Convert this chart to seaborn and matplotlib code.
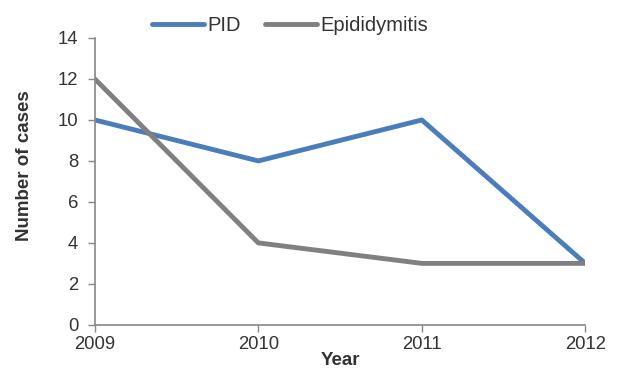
import matplotlib
matplotlib.use("Agg")
import matplotlib.pyplot as plt
import seaborn as sns
import pandas as pd

years = [2009, 2010, 2011, 2012]
pid_cases = [10, 8, 10, 3]
epi_cases = [12, 4, 3, 3]
series_names = ["PID", "Epididymitis"]

sns.set_theme(style="white")
plt.rcParams['font.family'] = ['Liberation Sans', 'DejaVu Sans']

df = pd.DataFrame({
    'Year': years * 2,
    'cases': pid_cases + epi_cases,
    'series': [series_names[0]] * len(years) + [series_names[1]] * len(years),
})

fig = plt.figure(figsize=(6.2, 3.76), dpi=100)
ax = fig.add_axes([0.153, 0.136, 0.791, 0.763])

palette = {"PID": "#4A7EBB", "Epididymitis": "#808080"}
sns.lineplot(data=df, x='Year', y='cases', hue='series', palette=palette,
             linewidth=3.5, ax=ax, legend=True)

ax.set_xlim(2009, 2012)
ax.set_ylim(0, 14)
ax.set_xticks(years)
ax.set_yticks(range(0, 15, 2))
ax.tick_params(axis='both', direction='out', length=5, width=1, color='#888888',
               labelsize=13.3, labelcolor='#333333')
ax.tick_params(axis='y', left=True, pad=7)
ax.tick_params(axis='x', bottom=True, pad=3)

for side in ['top', 'right']:
    ax.spines[side].set_visible(False)
for side in ['left', 'bottom']:
    ax.spines[side].set_color('#888888')
    ax.spines[side].set_linewidth(1.2)

ax.set_xlabel('Year', fontsize=13.5, fontweight='bold', color='#333333', labelpad=-1)
ax.set_ylabel('Number of cases', fontsize=13.5, fontweight='bold', color='#333333')
ax.yaxis.set_label_coords(-0.127, 0.554)

handles, labels = ax.get_legend_handles_labels()
ax.get_legend().remove()
leg = fig.legend(handles, labels, loc='center', bbox_to_anchor=(0.468, 0.933), ncol=2,
                 frameon=False, fontsize=14.5, handlelength=2.6, columnspacing=1.2,
                 handletextpad=0.15)
for t in leg.get_texts():
    t.set_color('#333333')

fig.savefig('out.png', dpi=100)
plt.close(fig)
